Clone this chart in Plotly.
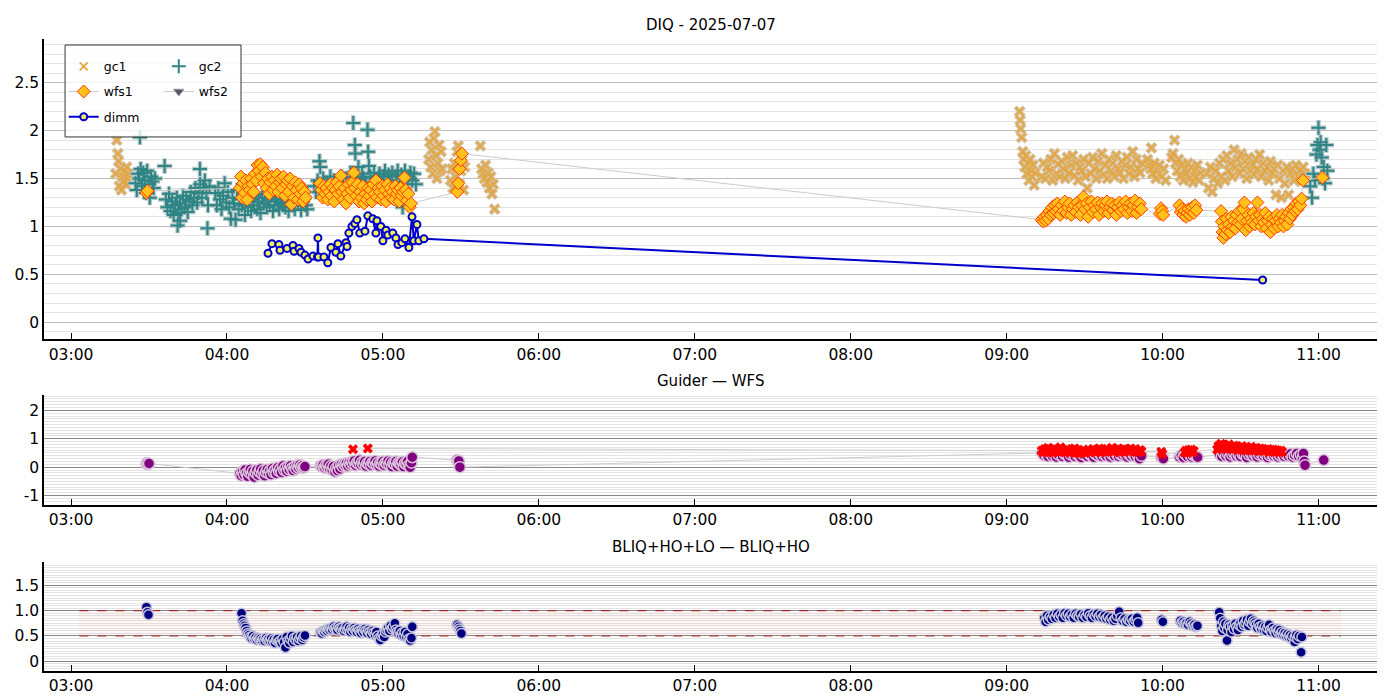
import pandas as pd
import plotly.graph_objects as go

T0 = pd.Timestamp("2025-07-07 03:00")
X_RANGE = ["2025-07-07 02:49:36", "2025-07-07 11:22:30"]

# all points are (minutes after 03:00, value)
gc1_pts = [
    (17.2, 1.55), (17.6, 1.90), (18.0, 1.76), (18.3, 1.68), (18.6, 1.42), (19.0, 1.60),
    (19.4, 1.38), (19.8, 1.52), (20.2, 1.47), (20.6, 1.58), (21.0, 1.44), (21.4, 1.62),
    (21.8, 1.50), (22.2, 1.55),
    (137.6, 1.70), (138.0, 1.88), (138.4, 1.62), (138.8, 1.80), (139.2, 1.55), (139.6, 1.92),
    (140.0, 1.99), (140.4, 1.74), (140.8, 1.50), (141.2, 1.66), (141.6, 1.85), (142.0, 1.58),
    (142.4, 1.78), (142.8, 1.60),
    (146.0, 1.48), (146.5, 1.60), (147.0, 1.40), (147.5, 1.66), (148.0, 1.52), (148.5, 1.78),
    (149.0, 1.84), (149.5, 1.44), (150.0, 1.58), (150.5, 1.70), (151.0, 1.38), (151.5, 1.62),
    (157.5, 1.84), (158.0, 1.60), (158.5, 1.55), (159.0, 1.50), (159.5, 1.64), (160.0, 1.46),
    (160.5, 1.56), (161.0, 1.40), (161.5, 1.52), (162.0, 1.34), (162.5, 1.44), (163.0, 1.18),
    (365.0, 2.20), (365.2, 2.11), (365.4, 2.02), (365.8, 1.93), (366.2, 1.78), (366.6, 1.70),
    (367.0, 1.62), (367.4, 1.74), (367.8, 1.55), (368.2, 1.66), (368.6, 1.48), (369.0, 1.70),
    (369.4, 1.58), (369.8, 1.52), (370.2, 1.64), (370.6, 1.43), (371.0, 1.56),
    (373.5, 1.52), (374.2, 1.66), (374.9, 1.50), (375.6, 1.62), (376.3, 1.58), (377.0, 1.70),
    (377.7, 1.48), (378.4, 1.76), (379.1, 1.55), (379.8, 1.65), (380.5, 1.52), (381.2, 1.68),
    (381.9, 1.60), (382.6, 1.50), (383.3, 1.72), (384.0, 1.56), (384.7, 1.64), (385.4, 1.74),
    (386.1, 1.53), (386.8, 1.66), (387.5, 1.48), (388.2, 1.62), (388.9, 1.58), (389.6, 1.70),
    (390.3, 1.52), (391.0, 1.40), (391.7, 1.66), (392.4, 1.55), (393.1, 1.72), (393.8, 1.60),
    (394.5, 1.50), (395.2, 1.68), (395.9, 1.58), (396.6, 1.76), (397.3, 1.54), (398.0, 1.64),
    (398.7, 1.50), (399.4, 1.70), (400.1, 1.58), (400.8, 1.66), (401.5, 1.52), (402.2, 1.74),
    (402.9, 1.60), (403.6, 1.56), (404.3, 1.68), (405.0, 1.50), (405.7, 1.64), (406.4, 1.72),
    (407.1, 1.55), (407.8, 1.62), (408.5, 1.78), (409.2, 1.52), (409.9, 1.70), (410.6, 1.60),
    (411.3, 1.56), (412.0, 1.66),
    (414.2, 1.70), (414.8, 1.64), (415.4, 1.60), (415.7, 1.82), (416.2, 1.55), (416.8, 1.66),
    (417.4, 1.50), (418.0, 1.58), (418.8, 1.64), (419.6, 1.52), (420.4, 1.60), (421.2, 1.48),
    (423.5, 1.72), (424.0, 1.76), (424.6, 1.90), (425.0, 1.66), (425.6, 1.58), (426.2, 1.70),
    (426.8, 1.52), (427.4, 1.64), (428.0, 1.48), (428.6, 1.60), (429.2, 1.55), (429.8, 1.66),
    (430.4, 1.50), (431.0, 1.62), (431.6, 1.46), (432.2, 1.58), (432.8, 1.52), (433.4, 1.64),
    (434.0, 1.48), (434.6, 1.56),
    (437.0, 1.55), (437.7, 1.40), (438.4, 1.62), (439.1, 1.36), (439.8, 1.50), (440.5, 1.58),
    (441.2, 1.45), (441.9, 1.66), (442.6, 1.52), (443.3, 1.70), (444.0, 1.48), (444.7, 1.74),
    (445.4, 1.58), (446.1, 1.66), (446.8, 1.52), (447.5, 1.80), (448.2, 1.62), (448.9, 1.70),
    (449.6, 1.55), (450.3, 1.76), (451.0, 1.60), (451.7, 1.68), (452.4, 1.50), (453.1, 1.72),
    (453.8, 1.58), (454.5, 1.64), (455.2, 1.54), (455.9, 1.70), (456.6, 1.60), (457.3, 1.75),
    (458.0, 1.52), (458.7, 1.66), (459.4, 1.58), (460.1, 1.62), (460.8, 1.48), (461.5, 1.68),
    (462.2, 1.55), (462.9, 1.60), (463.6, 1.33), (464.3, 1.64), (465.0, 1.50), (465.7, 1.30),
    (466.4, 1.58), (467.1, 1.45), (467.8, 1.62), (468.5, 1.33), (469.2, 1.55), (469.9, 1.60),
    (470.6, 1.48), (471.3, 1.64), (472.0, 1.52), (472.7, 1.58), (473.4, 1.47), (474.1, 1.62),
    (474.8, 1.55), (475.5, 1.50),
]

gc2_pts = [
    (24.8, 1.45), (25.3, 1.38), (25.8, 1.55), (26.3, 1.50), (26.5, 1.93), (26.8, 1.60),
    (27.3, 1.42), (27.8, 1.56), (28.3, 1.48), (28.8, 1.35), (29.3, 1.58), (29.8, 1.44),
    (30.3, 1.30), (30.8, 1.52), (31.3, 1.47), (31.8, 1.40), (32.3, 1.50),
    (36.0, 1.63),
    (36.5, 1.28), (37.1, 1.20), (37.7, 1.34), (38.3, 1.16), (38.9, 1.26), (39.5, 1.12),
    (40.1, 1.22), (40.7, 1.30), (41.0, 1.01), (41.3, 1.14), (41.9, 1.24), (42.0, 1.06),
    (42.5, 1.18), (43.1, 1.32), (43.7, 1.20), (44.3, 1.28), (44.9, 1.15), (45.5, 1.26),
    (46.1, 1.36), (46.7, 1.22), (47.3, 1.30), (47.9, 1.40), (48.5, 1.25), (49.1, 1.35),
    (49.6, 1.60), (49.7, 1.44), (50.3, 1.30), (50.9, 1.40), (51.5, 1.48), (52.1, 1.35),
    (52.5, 0.98), (52.7, 1.22), (53.3, 1.42),
    (55.5, 1.35), (56.1, 1.22), (56.7, 1.40), (57.3, 1.28), (57.9, 1.18), (58.5, 1.32),
    (59.1, 1.45), (59.7, 1.25), (60.3, 1.36), (60.9, 1.20), (61.5, 1.08), (62.1, 1.30),
    (62.7, 1.24), (63.3, 1.07), (63.9, 1.38), (64.5, 1.18), (65.1, 1.28), (65.7, 1.22),
    (66.3, 1.34), (66.9, 1.12), (67.5, 1.26), (68.1, 1.20), (68.7, 1.36), (69.3, 1.16),
    (69.9, 1.28), (70.5, 1.22), (71.1, 1.32), (71.7, 1.18), (72.3, 1.26), (72.9, 1.14),
    (73.5, 1.30), (74.1, 1.24), (74.7, 1.34), (75.3, 1.20), (75.9, 1.28), (76.5, 1.22),
    (77.1, 1.32), (77.7, 1.16), (78.3, 1.26), (78.9, 1.30), (79.5, 1.22), (80.1, 1.18),
    (80.7, 1.28), (81.3, 1.24), (81.9, 1.32), (82.5, 1.20), (83.1, 1.28), (83.7, 1.16),
    (84.3, 1.26), (84.9, 1.30), (85.5, 1.22), (86.1, 1.18), (86.7, 1.28), (87.3, 1.24),
    (87.9, 1.32), (88.5, 1.17), (89.1, 1.26), (89.7, 1.30), (90.3, 1.22), (90.9, 1.18),
    (93.5, 1.42), (94.2, 1.36), (94.9, 1.48), (95.6, 1.68), (95.9, 1.62), (96.3, 1.40),
    (97.0, 1.50), (97.7, 1.34), (98.4, 1.45), (99.1, 1.38), (99.8, 1.52), (100.5, 1.42),
    (101.2, 1.48), (101.9, 1.36), (102.6, 1.46), (103.3, 1.40), (104.0, 1.52), (104.7, 1.44),
    (105.4, 1.38), (106.1, 1.50), (106.8, 1.45), (107.5, 1.56), (108.2, 1.48), (108.6, 2.08),
    (109.2, 1.85), (109.4, 1.76), (109.9, 1.52), (110.6, 1.62), (111.3, 1.46), (112.0, 1.55),
    (112.7, 1.50), (113.4, 1.44), (114.1, 2.01), (114.3, 1.78), (114.6, 1.63), (115.2, 1.52),
    (115.9, 1.46), (116.6, 1.56), (117.3, 1.42), (118.0, 1.50), (118.7, 1.55), (119.4, 1.46),
    (120.1, 1.52), (120.8, 1.58), (121.5, 1.44), (122.2, 1.54), (122.9, 1.48), (123.6, 1.56),
    (124.3, 1.42), (125.0, 1.52), (125.7, 1.58), (126.4, 1.46), (127.1, 1.54), (127.6, 1.20),
    (127.8, 1.50), (128.5, 1.58), (129.2, 1.44), (129.9, 1.52), (130.6, 1.56), (131.3, 1.48),
    (132.0, 1.55), (132.7, 1.44),
    (476.8, 1.42), (477.5, 1.30), (478.0, 1.55), (478.6, 1.48), (479.2, 1.75), (479.6, 1.85),
    (480.0, 2.03), (480.4, 1.80), (480.8, 1.88), (481.2, 1.72), (481.6, 1.50), (482.0, 1.62),
    (482.5, 1.45), (483.0, 1.85), (483.4, 1.58),
]

wfs1_pts = [
    (29.0, 1.35), (29.4, 1.37),
    (65.0, 1.40), (65.4, 1.52), (65.8, 1.30), (66.3, 1.45), (66.8, 1.35), (67.3, 1.48),
    (67.8, 1.28), (68.3, 1.42), (68.8, 1.38), (69.3, 1.50), (69.8, 1.44), (70.3, 1.36),
    (70.8, 1.55), (71.3, 1.48), (71.8, 1.64), (72.3, 1.58), (72.8, 1.65), (73.3, 1.52),
    (73.8, 1.62), (74.3, 1.45), (74.8, 1.56), (75.3, 1.40), (75.8, 1.50), (76.3, 1.34),
    (76.8, 1.46), (77.3, 1.52), (77.8, 1.38), (78.3, 1.48), (78.8, 1.42), (79.3, 1.54),
    (79.8, 1.36), (80.3, 1.46), (80.8, 1.50), (81.3, 1.40), (81.8, 1.52), (82.3, 1.32),
    (82.8, 1.44), (83.3, 1.48), (83.8, 1.36), (84.3, 1.50), (84.8, 1.23), (85.3, 1.42),
    (85.8, 1.30), (86.3, 1.46), (86.8, 1.38), (87.3, 1.28), (87.8, 1.44), (88.3, 1.34),
    (88.8, 1.40), (89.3, 1.26), (89.8, 1.36), (90.3, 1.30),
    (95.8, 1.45), (96.3, 1.38), (96.8, 1.30), (97.3, 1.42), (97.8, 1.34), (98.3, 1.40),
    (98.8, 1.28), (99.3, 1.36), (99.8, 1.44), (100.3, 1.32), (100.8, 1.40), (101.3, 1.26),
    (101.8, 1.38), (102.3, 1.46), (102.8, 1.34), (103.3, 1.42), (103.8, 1.53), (104.3, 1.36),
    (104.8, 1.28), (105.3, 1.40), (105.8, 1.24), (106.3, 1.34), (106.8, 1.44), (107.3, 1.30),
    (107.8, 1.38), (108.3, 1.46), (108.8, 1.56), (109.3, 1.40), (109.8, 1.32), (110.3, 1.44),
    (110.8, 1.26), (111.3, 1.36), (111.8, 1.30), (112.3, 1.42), (112.8, 1.24), (113.3, 1.34),
    (113.8, 1.28), (114.3, 1.40), (114.8, 1.32), (115.3, 1.38), (115.8, 1.26), (116.3, 1.44),
    (116.8, 1.34), (117.3, 1.48), (117.8, 1.30), (118.3, 1.40), (118.8, 1.36), (119.3, 1.28),
    (119.8, 1.42), (120.3, 1.32), (120.8, 1.38), (121.3, 1.26), (121.8, 1.44), (122.3, 1.34),
    (122.8, 1.40), (123.3, 1.30), (123.8, 1.36), (124.3, 1.28), (124.8, 1.42), (125.3, 1.34),
    (125.8, 1.38), (126.3, 1.26), (126.8, 1.40), (127.3, 1.32), (127.8, 1.36), (128.3, 1.51),
    (128.8, 1.38), (129.3, 1.27), (129.8, 1.34), (130.3, 1.20), (130.8, 1.24),
    (148.6, 1.36), (149.0, 1.45), (149.5, 1.60), (150.0, 1.69), (150.4, 1.76),
    (373.5, 1.07), (374.0, 1.05), (374.5, 1.10), (375.0, 1.06), (375.5, 1.12), (376.0, 1.08),
    (376.5, 1.16), (377.0, 1.12), (377.5, 1.20), (378.0, 1.14), (378.5, 1.22), (379.0, 1.16),
    (379.5, 1.24), (380.0, 1.18), (380.6, 1.12), (381.2, 1.22), (381.8, 1.16), (382.4, 1.26),
    (383.0, 1.14), (383.6, 1.20), (384.2, 1.24), (384.8, 1.12), (385.4, 1.18), (386.0, 1.22),
    (386.6, 1.15), (387.2, 1.25), (387.8, 1.20), (388.4, 1.12), (389.0, 1.22), (389.6, 1.31),
    (390.2, 1.18), (390.8, 1.24), (391.4, 1.10), (392.0, 1.20), (392.6, 1.26), (393.2, 1.15),
    (393.8, 1.22), (394.4, 1.18), (395.0, 1.25), (395.6, 1.12), (396.2, 1.20), (396.8, 1.24),
    (397.4, 1.16), (398.0, 1.22), (398.6, 1.26), (399.2, 1.14), (399.8, 1.20), (400.4, 1.24),
    (401.0, 1.17), (401.6, 1.22), (402.2, 1.12), (402.8, 1.20), (403.4, 1.25), (404.0, 1.16),
    (404.6, 1.22), (405.2, 1.18), (405.8, 1.26), (406.4, 1.14), (407.0, 1.20), (407.6, 1.24),
    (408.2, 1.16), (408.8, 1.22), (409.4, 1.27), (410.0, 1.14), (410.6, 1.20), (411.2, 1.24),
    (411.8, 1.18),
    (419.0, 1.13), (419.4, 1.19), (419.8, 1.16), (420.2, 1.12),
    (426.5, 1.22), (427.0, 1.15), (427.5, 1.18), (428.0, 1.12), (428.5, 1.16), (429.0, 1.10),
    (429.5, 1.14), (430.0, 1.18), (430.5, 1.12), (431.0, 1.16), (431.5, 1.20), (432.0, 1.14),
    (432.5, 1.22), (433.0, 1.17),
    (442.5, 1.16), (442.8, 1.05), (443.1, 0.94), (443.4, 0.88), (443.8, 1.00), (444.2, 0.92),
    (444.6, 1.08), (445.0, 0.96), (445.5, 1.02), (446.0, 0.94), (446.5, 1.10), (447.0, 1.00),
    (447.5, 1.06), (448.0, 0.98), (448.5, 1.12), (449.0, 1.04), (449.5, 1.16), (450.0, 1.02),
    (450.5, 1.08), (451.0, 1.18), (451.5, 1.25), (452.0, 0.96), (452.5, 1.06), (453.0, 1.12),
    (453.5, 1.00), (454.0, 1.08), (454.5, 1.04), (455.0, 1.14), (455.5, 1.02), (456.0, 1.10),
    (456.5, 1.25), (457.0, 1.06), (457.5, 1.12), (458.0, 1.00), (458.5, 1.08), (459.0, 1.04),
    (459.5, 1.14), (460.0, 0.98), (460.5, 1.06), (461.0, 1.10), (461.5, 0.94), (462.0, 1.02),
    (462.5, 1.08), (463.0, 0.98), (463.5, 1.06), (464.0, 1.12), (464.5, 1.00), (465.0, 1.08),
    (465.5, 1.04), (466.0, 1.12), (466.5, 1.00), (467.0, 1.06), (467.5, 1.10), (468.0, 1.02),
    (468.5, 1.14), (469.0, 1.08), (469.5, 1.18), (470.0, 1.12), (470.5, 1.20), (471.0, 1.16),
    (471.5, 1.24), (472.0, 1.18), (472.5, 1.26), (473.0, 1.22), (473.5, 1.29), (474.0, 1.48),
    (481.5, 1.51),
]

# wfs2 has no samples that night, only its legend entry
wfs2_pts = [(None, None)]

dimm_pts = [
    (75.8, 0.72), (77.3, 0.82), (80.0, 0.81), (80.4, 0.75), (83.1, 0.77), (85.4, 0.80),
    (85.8, 0.74), (87.7, 0.77), (88.5, 0.73), (90.0, 0.70), (91.2, 0.66), (93.1, 0.69),
    (94.8, 0.68), (95.0, 0.88), (95.2, 0.68), (97.3, 0.68), (98.8, 0.62), (100.0, 0.78),
    (101.9, 0.73), (102.7, 0.82), (103.8, 0.69), (105.8, 0.83), (106.2, 0.79), (106.9, 0.93),
    (108.1, 1.00), (109.2, 1.03), (110.0, 1.07), (111.1, 0.93), (113.1, 0.95), (114.2, 1.11),
    (116.1, 1.08), (117.3, 0.93), (117.7, 1.06), (119.2, 1.00), (120.0, 0.85), (121.2, 0.96),
    (121.9, 0.91), (123.8, 0.93), (125.0, 0.88), (125.8, 0.81), (127.3, 0.83), (128.5, 0.87),
    (130.0, 0.78), (131.2, 1.10), (131.9, 0.85), (133.1, 1.02), (133.8, 0.85), (135.8, 0.87),
    (458.5, 0.44),
]

# Guider - WFS
gw1_pts = [
    (29.0, 0.12), (29.3, 0.15), (29.6, 0.10), (30.0, 0.13),
    (65.0, -0.22), (65.5, -0.30), (66.0, -0.15), (66.5, -0.26), (67.0, -0.10), (67.5, -0.22),
    (68.0, -0.32), (68.5, -0.18), (69.0, -0.08), (69.5, -0.25), (70.0, -0.14), (70.5, -0.35),
    (71.0, -0.20), (71.5, -0.10), (72.0, -0.28), (72.5, -0.16), (73.0, -0.06), (73.5, -0.24),
    (74.0, -0.12), (74.5, -0.30), (75.0, -0.18), (75.5, -0.08), (76.0, -0.22), (76.5, -0.12),
    (77.0, -0.26), (77.5, -0.05), (78.0, -0.18), (78.5, -0.10), (79.0, -0.22), (79.5, -0.02),
    (80.0, -0.14), (80.5, -0.06), (81.0, -0.18), (81.5, 0.04), (82.0, -0.10), (82.5, -0.02),
    (83.0, -0.14), (83.5, 0.02), (84.0, -0.08), (84.5, 0.05), (85.0, -0.04), (85.5, -0.12),
    (86.0, 0.02), (86.5, -0.06), (87.0, 0.06), (87.5, -0.02), (88.0, 0.08), (88.5, 0.00),
    (89.0, 0.05), (89.5, -0.02), (90.0, 0.02),
    (96.0, 0.05), (96.5, 0.02), (97.0, 0.08), (97.5, -0.02), (98.0, 0.06), (98.5, 0.00),
    (99.0, 0.10), (99.5, -0.05), (100.0, 0.04), (100.5, -0.10), (101.0, 0.02), (101.5, -0.16),
    (102.0, -0.04), (102.5, -0.12), (103.0, 0.06), (103.5, -0.06), (104.0, 0.10), (104.5, 0.02),
    (105.0, 0.12), (105.5, 0.06), (106.0, 0.14), (106.5, 0.04), (107.0, 0.16), (107.5, 0.08),
    (108.0, 0.18), (108.5, 0.10), (109.0, 0.22), (109.5, 0.06), (110.0, 0.16), (110.5, 0.12),
    (111.0, 0.24), (111.5, 0.08), (112.0, 0.18), (112.5, 0.10), (113.0, 0.20), (113.5, 0.04),
    (114.0, 0.14), (114.5, 0.10), (115.0, 0.20), (115.5, 0.06), (116.0, 0.16), (116.5, 0.12),
    (117.0, 0.22), (117.5, 0.08), (118.0, 0.16), (118.5, 0.04), (119.0, 0.14), (119.5, 0.10),
    (120.0, 0.20), (120.5, 0.06), (121.0, 0.16), (121.5, 0.12), (122.0, 0.22), (122.5, 0.08),
    (123.0, 0.18), (123.5, 0.02), (124.0, 0.14), (124.5, 0.10), (125.0, 0.20), (125.5, 0.04),
    (126.0, 0.16), (126.5, 0.12), (127.0, 0.08), (127.5, 0.18), (128.0, 0.02), (128.5, 0.14),
    (129.0, 0.10), (129.5, 0.20), (130.0, 0.06), (130.5, 0.00), (131.0, 0.16), (131.3, 0.35),
    (148.5, 0.25), (148.8, 0.20), (149.2, 0.22), (149.6, 0.00),
    (373.5, 0.50), (374.3, 0.42), (375.1, 0.46), (375.9, 0.38), (376.7, 0.48), (377.5, 0.40),
    (378.3, 0.45), (379.1, 0.36), (379.9, 0.44), (380.7, 0.48), (381.5, 0.38), (382.3, 0.46),
    (383.1, 0.42), (383.9, 0.35), (384.7, 0.44), (385.5, 0.48), (386.3, 0.38), (387.1, 0.45),
    (387.9, 0.40), (388.7, 0.34), (389.5, 0.44), (390.3, 0.48), (391.1, 0.38), (391.9, 0.46),
    (392.7, 0.40), (393.5, 0.35), (394.3, 0.45), (395.1, 0.42), (395.9, 0.48), (396.7, 0.38),
    (397.5, 0.44), (398.3, 0.40), (399.1, 0.47), (399.9, 0.36), (400.7, 0.44), (401.5, 0.40),
    (402.3, 0.48), (403.1, 0.38), (403.9, 0.44), (404.7, 0.42), (405.5, 0.46), (406.3, 0.36),
    (407.1, 0.44), (407.9, 0.40), (408.7, 0.46), (409.5, 0.38), (410.3, 0.44), (411.1, 0.30),
    (411.9, 0.40),
    (419.5, 0.35), (420.0, 0.40), (420.3, 0.30),
    (426.5, 0.36), (427.2, 0.42), (428.0, 0.34), (428.8, 0.45), (429.6, 0.38), (430.4, 0.46),
    (431.2, 0.36), (432.0, 0.42), (432.8, 0.40), (433.5, 0.35),
    (442.0, 0.44), (442.8, 0.38), (443.6, 0.48), (444.4, 0.40), (445.2, 0.46), (446.0, 0.36),
    (446.8, 0.44), (447.6, 0.48), (448.4, 0.40), (449.2, 0.45), (450.0, 0.38), (450.8, 0.46),
    (451.6, 0.42), (452.4, 0.34), (453.2, 0.44), (454.0, 0.48), (454.8, 0.40), (455.6, 0.45),
    (456.4, 0.36), (457.2, 0.44), (458.0, 0.48), (458.8, 0.40), (459.6, 0.45), (460.4, 0.34),
    (461.2, 0.42), (462.0, 0.46), (462.8, 0.40), (463.6, 0.44), (464.4, 0.36), (465.2, 0.42),
    (466.0, 0.46), (466.8, 0.38), (467.6, 0.44), (468.4, 0.40), (469.2, 0.46), (470.0, 0.36),
    (470.8, 0.42), (471.6, 0.48), (472.4, 0.38), (473.2, 0.44), (473.8, 0.30), (474.2, 0.48),
    (474.5, 0.20), (474.8, 0.07), (482.0, 0.25),
]

gw2_pts = [
    (108.5, 0.63), (114.2, 0.66),
    (373.5, 0.58), (374.1, 0.52), (374.7, 0.64), (375.3, 0.56), (375.9, 0.68), (376.5, 0.54),
    (377.1, 0.62), (377.7, 0.50), (378.3, 0.66), (378.9, 0.58), (379.5, 0.62), (380.1, 0.54),
    (380.7, 0.70), (381.3, 0.56), (381.9, 0.60), (382.5, 0.52), (383.1, 0.64), (383.7, 0.58),
    (384.3, 0.50), (384.9, 0.62), (385.5, 0.56), (386.1, 0.66), (386.7, 0.52), (387.3, 0.60),
    (387.9, 0.48), (388.5, 0.56), (389.1, 0.52), (389.7, 0.60), (390.3, 0.50), (390.9, 0.56),
    (391.5, 0.62), (392.1, 0.52), (392.7, 0.58), (393.3, 0.64), (393.9, 0.54), (394.5, 0.60),
    (395.1, 0.56), (395.7, 0.66), (396.3, 0.52), (396.9, 0.62), (397.5, 0.58), (398.1, 0.54),
    (398.7, 0.64), (399.3, 0.56), (399.9, 0.60), (400.5, 0.68), (401.1, 0.54), (401.7, 0.62),
    (402.3, 0.58), (402.9, 0.66), (403.5, 0.52), (404.1, 0.60), (404.7, 0.56), (405.3, 0.64),
    (405.9, 0.58), (406.5, 0.62), (407.1, 0.54), (407.7, 0.66), (408.3, 0.60), (408.9, 0.56),
    (409.5, 0.64), (410.1, 0.58), (410.7, 0.52), (411.3, 0.60), (411.9, 0.56),
    (419.5, 0.54), (419.9, 0.46),
    (428.5, 0.52), (429.0, 0.58), (429.5, 0.50), (430.0, 0.60), (430.5, 0.55), (431.0, 0.62),
    (431.5, 0.52), (432.0, 0.57),
    (441.0, 0.62), (441.5, 0.74), (442.0, 0.68), (442.5, 0.82), (443.0, 0.70), (443.5, 0.78),
    (444.0, 0.64), (444.5, 0.74), (445.0, 0.68), (445.5, 0.80), (446.0, 0.66), (446.5, 0.72),
    (447.0, 0.62), (447.5, 0.76), (448.0, 0.66), (448.5, 0.72), (449.0, 0.60), (449.5, 0.70),
    (450.0, 0.64), (450.5, 0.74), (451.0, 0.62), (451.5, 0.68), (452.0, 0.58), (452.5, 0.70),
    (453.0, 0.64), (453.5, 0.60), (454.0, 0.72), (454.5, 0.62), (455.0, 0.66), (455.5, 0.58),
    (456.0, 0.68), (456.5, 0.62), (457.0, 0.56), (457.5, 0.66), (458.0, 0.60), (458.5, 0.64),
    (459.0, 0.56), (459.5, 0.62), (460.0, 0.58), (460.5, 0.64), (461.0, 0.54), (461.5, 0.60),
    (462.0, 0.56), (462.5, 0.62), (463.0, 0.54), (463.5, 0.60), (464.0, 0.56), (464.5, 0.58),
    (465.0, 0.52), (465.5, 0.58), (466.0, 0.54),
]

# BLIQ+HO+LO - BLIQ+HO
bliq_pts = [
    (29.0, 1.07), (29.4, 0.97), (29.8, 0.92),
    (65.6, 0.95), (66.0, 0.80), (66.4, 0.74), (66.8, 0.70), (67.2, 0.66), (67.6, 0.60),
    (68.0, 0.55), (68.5, 0.52), (69.0, 0.48), (69.5, 0.45), (70.0, 0.50), (70.5, 0.44),
    (71.0, 0.47), (71.5, 0.42), (72.0, 0.46), (72.5, 0.43), (73.0, 0.45), (73.5, 0.41),
    (74.0, 0.44), (74.5, 0.40), (75.0, 0.46), (75.5, 0.42), (76.0, 0.44), (76.5, 0.40),
    (77.0, 0.45), (77.5, 0.38), (78.0, 0.43), (78.5, 0.36), (79.0, 0.42), (79.5, 0.44),
    (80.0, 0.38), (80.5, 0.40), (81.0, 0.36), (81.5, 0.44), (82.0, 0.38), (82.5, 0.27),
    (83.0, 0.48), (83.5, 0.40), (84.0, 0.36), (84.5, 0.44), (85.0, 0.50), (85.5, 0.38),
    (86.0, 0.46), (86.5, 0.42), (87.0, 0.48), (87.5, 0.40), (88.0, 0.45), (88.5, 0.50),
    (89.0, 0.42), (89.5, 0.47), (90.0, 0.51),
    (96.0, 0.57), (96.5, 0.55), (97.0, 0.60), (97.5, 0.58), (98.0, 0.62), (98.5, 0.60),
    (99.0, 0.64), (99.5, 0.62), (100.0, 0.66), (100.5, 0.63), (101.0, 0.68), (101.5, 0.64),
    (102.0, 0.66), (102.5, 0.62), (103.0, 0.68), (103.5, 0.65), (104.0, 0.62), (104.5, 0.66),
    (105.0, 0.60), (105.5, 0.64), (106.0, 0.68), (106.5, 0.62), (107.0, 0.66), (107.5, 0.58),
    (108.0, 0.64), (108.5, 0.60), (109.0, 0.66), (109.5, 0.62), (110.0, 0.58), (110.5, 0.64),
    (111.0, 0.60), (111.5, 0.56), (112.0, 0.62), (112.5, 0.58), (113.0, 0.64), (113.5, 0.60),
    (114.0, 0.56), (114.5, 0.62), (115.0, 0.58), (115.5, 0.54), (116.0, 0.60), (116.5, 0.56),
    (117.0, 0.52), (117.5, 0.58), (118.0, 0.50), (118.5, 0.45), (119.0, 0.42), (119.5, 0.50),
    (120.0, 0.54), (120.5, 0.48), (121.0, 0.58), (121.5, 0.62), (122.0, 0.66), (122.5, 0.60),
    (123.0, 0.70), (123.5, 0.64), (124.0, 0.68), (124.6, 0.75), (125.0, 0.62), (125.5, 0.58),
    (126.0, 0.55), (126.5, 0.60), (127.0, 0.52), (127.5, 0.56), (128.0, 0.50), (128.5, 0.58),
    (129.0, 0.48), (129.5, 0.54), (130.0, 0.44), (130.5, 0.41), (131.0, 0.46), (131.3, 0.68),
    (148.5, 0.72), (149.0, 0.68), (149.4, 0.64), (149.8, 0.60), (150.2, 0.55),
    (374.5, 0.86), (375.0, 0.78), (375.5, 0.90), (376.0, 0.82), (376.7, 0.88), (377.4, 0.84),
    (378.1, 0.92), (378.8, 0.86), (379.5, 0.94), (380.2, 0.88), (380.9, 0.92), (381.6, 0.86),
    (382.3, 0.95), (383.0, 0.90), (383.7, 0.94), (384.4, 0.88), (385.1, 0.92), (385.8, 0.86),
    (386.5, 0.94), (387.2, 0.90), (387.9, 0.88), (388.6, 0.93), (389.3, 0.86), (390.0, 0.92),
    (390.7, 0.88), (391.4, 0.95), (392.1, 0.90), (392.8, 0.86), (393.5, 0.93), (394.2, 0.89),
    (394.9, 0.94), (395.6, 0.88), (396.3, 0.92), (397.0, 0.86), (397.7, 0.90), (398.4, 0.84),
    (399.1, 0.88), (399.8, 0.82), (400.5, 0.86), (401.2, 0.80), (401.9, 0.84), (402.6, 0.90),
    (403.3, 0.98), (404.0, 0.86), (404.7, 0.80), (405.4, 0.84), (406.1, 0.78), (406.8, 0.82),
    (407.5, 0.80), (408.2, 0.84), (408.9, 0.78), (409.6, 0.82), (410.2, 0.86), (410.6, 0.76),
    (419.6, 0.82), (420.1, 0.78),
    (426.8, 0.80), (427.4, 0.76), (428.0, 0.78), (428.6, 0.74), (429.2, 0.76), (429.8, 0.72),
    (430.4, 0.78), (431.0, 0.74), (431.6, 0.70), (432.2, 0.72), (432.8, 0.68), (433.4, 0.70),
    (441.8, 0.97), (442.2, 0.85), (442.6, 0.70), (443.0, 0.60), (443.4, 0.78), (443.8, 0.66),
    (444.2, 0.74), (444.8, 0.41), (445.0, 0.62), (445.5, 0.72), (446.0, 0.68), (446.5, 0.58),
    (447.0, 0.70), (447.5, 0.64), (448.0, 0.74), (448.5, 0.68), (449.0, 0.62), (449.5, 0.72),
    (450.0, 0.76), (450.5, 0.68), (451.0, 0.80), (451.5, 0.72), (452.0, 0.76), (452.5, 0.82),
    (453.0, 0.70), (453.5, 0.78), (454.0, 0.84), (454.5, 0.74), (455.0, 0.80), (455.5, 0.76),
    (456.0, 0.72), (456.5, 0.66), (457.0, 0.74), (457.5, 0.68), (458.0, 0.64), (458.5, 0.70),
    (459.0, 0.62), (459.5, 0.68), (460.0, 0.60), (460.5, 0.66), (461.0, 0.72), (461.5, 0.62),
    (462.0, 0.58), (462.5, 0.66), (463.0, 0.60), (463.5, 0.56), (464.0, 0.64), (464.5, 0.58),
    (465.0, 0.62), (465.5, 0.54), (466.0, 0.58), (466.5, 0.52), (467.0, 0.56), (467.5, 0.50),
    (468.0, 0.54), (468.5, 0.48), (469.0, 0.52), (469.5, 0.46), (470.0, 0.50), (470.8, 0.38),
    (471.0, 0.48), (471.5, 0.52), (472.0, 0.44), (472.5, 0.50), (473.3, 0.18), (473.6, 0.48),
]

bliq_band = (0.5, 1.0)
band_span = (3.2, 488.6)


def to_time(m):
    if m is None:
        return None
    return T0 + pd.Timedelta(seconds=round(m * 60))


def unzip(pts):
    return [to_time(m) for m, _ in pts], [y for _, y in pts]


fig = go.Figure()

# light halo under the guider crosses, as in the original renderer
t, v = unzip(gc1_pts)
fig.add_trace(go.Scatter(
    x=t, y=v, mode="markers", showlegend=False, hoverinfo="skip",
    marker=dict(symbol="x-thin", size=9, line=dict(width=4.5, color="#D6C3A4")),
))
fig.add_trace(go.Scatter(
    x=t, y=v, mode="markers", name="gc1", legend="legend", legendgroup="gc1",
    marker=dict(symbol="x-thin", size=8, line=dict(width=1.8, color="#E2A744")),
))
t, v = unzip(gc2_pts)
fig.add_trace(go.Scatter(
    x=t, y=v, mode="markers", showlegend=False, hoverinfo="skip",
    marker=dict(symbol="cross-thin", size=11, line=dict(width=4.5, color="#B5C8C8")),
))
fig.add_trace(go.Scatter(
    x=t, y=v, mode="markers", name="gc2", legend="legend2", legendgroup="gc2",
    marker=dict(symbol="cross-thin", size=10, line=dict(width=2, color="#2F8585")),
))
t, v = unzip(wfs1_pts)
fig.add_trace(go.Scatter(
    x=t, y=v, mode="lines+markers", name="wfs1", legend="legend", legendgroup="wfs1",
    line=dict(color="#CCCCCC", width=1),
    marker=dict(symbol="diamond", size=10, color="#FFC21A",
                line=dict(width=1, color="#FF3A00")),
))
t, v = unzip(wfs2_pts)
fig.add_trace(go.Scatter(
    x=t, y=v, mode="lines+markers", name="wfs2", legend="legend2", legendgroup="wfs2",
    line=dict(color="#CCCCCC", width=1),
    marker=dict(symbol="triangle-down", size=9, color="#555566",
                line=dict(width=1, color="#999999")),
))
t, v = unzip(dimm_pts)
fig.add_trace(go.Scatter(
    x=t, y=v, mode="lines+markers", name="dimm", legend="legend", legendgroup="dimm",
    line=dict(color="#0000CC", width=2),
    marker=dict(symbol="circle", size=7, color="#F2F25A",
                line=dict(width=2, color="#0000CC")),
))

t, v = unzip(gw1_pts)
fig.add_trace(go.Scatter(
    x=t, y=v, xaxis="x2", yaxis="y2", mode="lines+markers", showlegend=False,
    line=dict(color="#CCCCCC", width=1),
    marker=dict(symbol="circle", size=11, color="#800080",
                line=dict(width=1.5, color="#D9C2D9")),
))
t, v = unzip(gw2_pts)
fig.add_trace(go.Scatter(
    x=t, y=v, xaxis="x2", yaxis="y2", mode="lines+markers", showlegend=False,
    line=dict(color="#D0D0D0", width=1),
    marker=dict(symbol="x", size=9, color="#FF0000", line=dict(width=0)),
))

# target band of the bottom panel
band_x = [to_time(band_span[0]), to_time(band_span[1])]
fig.add_trace(go.Scatter(
    x=band_x, y=[bliq_band[0]] * 2, xaxis="x3", yaxis="y3", mode="lines",
    showlegend=False, hoverinfo="skip",
    line=dict(color="#A52A2A", width=1.2, dash="dash"),
))
fig.add_trace(go.Scatter(
    x=band_x, y=[bliq_band[1]] * 2, xaxis="x3", yaxis="y3", mode="lines",
    showlegend=False, hoverinfo="skip", fill="tonexty",
    fillcolor="rgba(230,60,60,0.05)",
    line=dict(color="#A52A2A", width=1.2, dash="dash"),
))
t, v = unzip(bliq_pts)
fig.add_trace(go.Scatter(
    x=t, y=v, xaxis="x3", yaxis="y3", mode="markers", showlegend=False,
    marker=dict(symbol="circle", size=10, color="#000080",
                line=dict(width=1.5, color="#C4C4DC")),
))

font = "DejaVu Sans"
tick_font = dict(family=font, size=15.5, color="black")


def xstyle(anchor):
    return dict(
        type="date", range=X_RANGE, anchor=anchor, tick0="2025-07-07 03:00",
        dtick=3600000, tickformat="%H:%M", ticks="inside", ticklen=6,
        tickcolor="black", showline=True, linecolor="black", linewidth=1.5,
        showgrid=False, zeroline=False, tickfont=tick_font, automargin=False,
    )


def ystyle(anchor, domain, rng, major_color, minor_dtick, **kw):
    d = dict(
        anchor=anchor, domain=domain, range=rng, showline=True, linecolor="black",
        linewidth=1.5, ticks="", zeroline=False, showgrid=True, gridcolor=major_color,
        gridwidth=1, tickfont=tick_font, automargin=False,
        minor=dict(dtick=minor_dtick, showgrid=True, gridcolor="#E4E4E4", gridwidth=1),
    )
    d.update(kw)
    return d


def grid_overlay(base, rng, vals, color):
    # extra gridlines of a second weight, drawn under the traces
    return dict(
        overlaying=base, anchor="x" if base == "y" else "x" + base[1:], range=rng,
        tickvals=vals, showticklabels=False, ticks="", showline=False, zeroline=False,
        showgrid=True, gridcolor=color, gridwidth=1, automargin=False,
    )


Y1_RANGE = [-0.178, 2.957]
Y2_RANGE = [-1.33, 2.54]

titles = [("DIQ - 2025-07-07", 1.022), ("Guider — WFS", 0.4589),
          ("BLIQ+HO+LO — BLIQ+HO", 0.1962)]
annotations = [dict(text=s, x=0.5, y=y, xref="paper", yref="paper", showarrow=False,
                    xanchor="center", yanchor="middle",
                    font=dict(family=font, size=15, color="black")) for s, y in titles]

legend_common = dict(xanchor="left", yanchor="top", bgcolor="rgba(0,0,0,0)",
                     borderwidth=0, tracegroupgap=6,
                     font=dict(family=font, size=12.5, color="black"))

fig.update_layout(
    width=1400, height=700,
    margin=dict(l=44, r=23, t=39, b=29, autoexpand=False),
    paper_bgcolor="white", plot_bgcolor="white",
    font=dict(family=font, color="black"),
    xaxis=xstyle("y"),
    xaxis2=xstyle("y2"),
    xaxis3=xstyle("y3"),
    yaxis=ystyle("x", [0.525, 1.0], Y1_RANGE, "#BDBDBD", 0.1, dtick=0.5),
    yaxis2=ystyle("x2", [0.2627, 0.4367], Y2_RANGE, "#888888", 0.1,
                  tickvals=[-1, 0, 1, 2], ticktext=["-1", "0", "1", "2"]),
    yaxis3=ystyle("x3", [0.0, 0.1729], [-0.192, 1.967], "#888888", 0.05,
                  tickvals=[0, 0.5, 1.0, 1.5], ticktext=["0", "0.5", "1.0", "1.5"]),
    yaxis4=grid_overlay("y", Y1_RANGE, [0, 1, 2], "#888888"),
    yaxis5=grid_overlay("y2", Y2_RANGE, [-0.5, 0.5, 1.5], "#BBBBBB"),
    legend=dict(x=0.0148, y=0.98, **legend_common),
    legend2=dict(x=0.0861, y=0.98, **legend_common),
    shapes=[dict(type="rect", xref="paper", yref="paper", x0=0.0158, x1=0.1478,
                 y0=0.845, y1=0.9905, fillcolor="rgba(255,255,255,0.8)",
                 line=dict(color="#333333", width=1), layer="above")],
    annotations=annotations,
    showlegend=True,
)

fig.write_html("out.html", config={"displayModeBar": False},
               post_script="document.body.style.margin = '0px';")
